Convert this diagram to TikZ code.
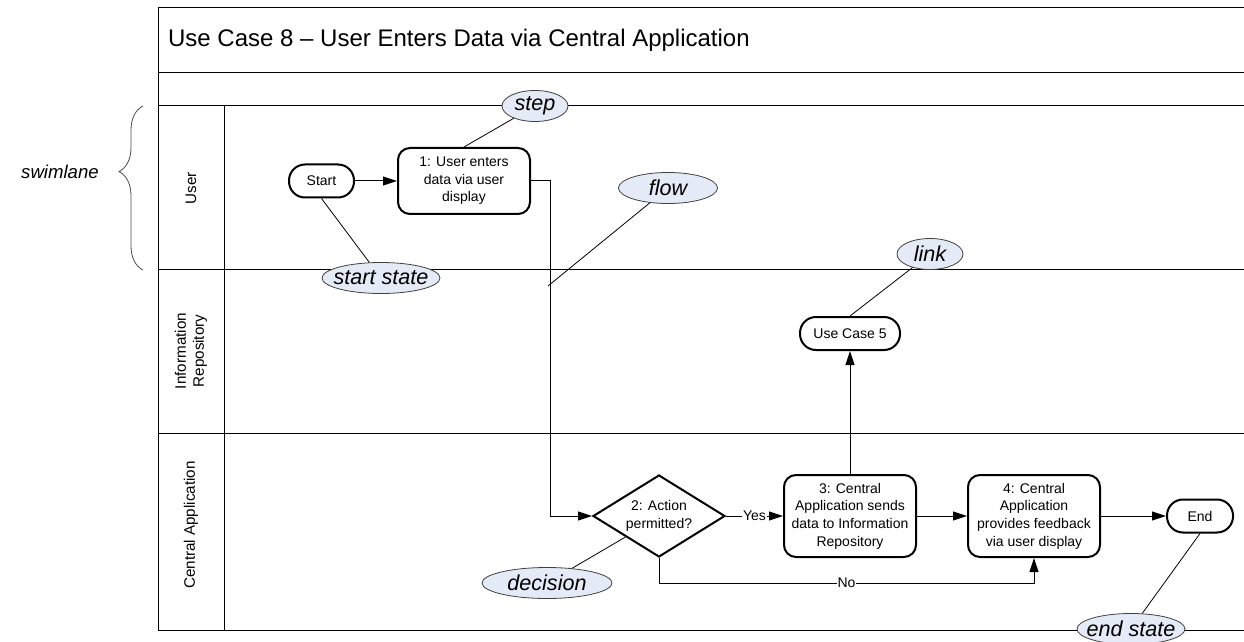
\documentclass[tikz,border=0pt]{standalone}
\usepackage{fontspec}
\setmainfont{Liberation Sans}
\usepackage{tikz}
\usetikzlibrary{arrows.meta,positioning,shapes.geometric,decorations.pathreplacing}

\definecolor{notefill}{RGB}{228,234,246}
\newcommand{\ctxt}[1]{\makebox[0pt]{#1}}

\begin{document}
\begin{tikzpicture}[x=0.5pt,y=-0.5pt,>={Triangle[length=7pt,width=4.5pt]},
                    line width=0.5pt]
  \tikzstyle{every node}=[font=\fontsize{7}{8.8}\selectfont]
  \tikzstyle{frame}=[line width=0.5pt]
  \tikzstyle{act}=[draw,line width=1pt,rounded corners=6pt,fill=white,align=center,
                   minimum width=66pt,minimum height=33pt,inner sep=1pt]
  \tikzstyle{term}=[draw,line width=1pt,rounded corners=8pt,fill=white,
                    minimum height=16.5pt,inner sep=1pt]
  \tikzstyle{note}=[draw=black!75,line width=0.4pt,ellipse,fill=notefill,inner sep=0pt,
                    minimum height=15.5pt,font=\fontsize{10.8}{12}\selectfont\itshape]
  \tikzstyle{lane}=[rotate=90,align=center,font=\fontsize{7.6}{9}\selectfont]
  \tikzstyle{lbl}=[fill=white,inner sep=0.5pt]

  \useasboundingbox (0,0) rectangle (1244,642);

  % pool and lanes
  \draw[frame] (1244,8) -- (158,8) -- (158,630) -- (1244,630);
  \foreach \y in {73,106,270,433}
    \draw[frame] (158,\y) -- (1244,\y);
  \draw[frame] (224,106) -- (224,630);

  \node[anchor=west,font=\fontsize{12}{14}\selectfont] (title) at (161,40)
    {Use Case 8 – User Enters Data via Central Application};

  \node[lane] (uLane) at (191,188) {User};
  \node[lane] (iLane) at (191,351) {Information\\Repository};
  \node[lane] (cLane) at (191,525) {Central Application};

  % flow
  \node[term,minimum width=32.5pt] (S) at (321.5,181) {Start};
  \node[act]          (A) [right=21pt of S]   {1: User enters\\data via user\\display};
  \node[draw,diamond,line width=1pt,fill=white,aspect=1.6,inner sep=0pt,align=center,
        minimum width=66pt,minimum height=41pt] (B) at (659,516) {2: Action\\permitted?};
  \node[act,minimum height=41pt] (C) [right=28.5pt of B] {3: Central\\Application sends\\data to Information\\Repository};
  \node[act,minimum height=41pt] (D) [right=25pt of C]   {4: Central\\Application\\provides feedback\\via user display};
  \node[term,minimum width=33pt] (E) [right=32.5pt of D] {End};
  \node[term,minimum width=50pt] (L) [above=61.5pt of C] {Use Case 5};

  \path[->] (S) edge (A)
            (B) edge node[lbl] {Yes} (C)
            (C) edge (D)
                edge (L)
            (D) edge (E);
  \draw[->] (A.east) -- ++(19,0) |- (B.west);
  \draw[->] (B.south) -- ++(0,25) -| node[lbl,pos=0.25] {No} (D.south);
  \coordinate (fl) at (548,286);

  % callouts
  \node[note,minimum width=33pt]   (cStep)  at (535,106)  {\ctxt{step}};
  \node[note,minimum width=49.5pt] (cFlow)  at (668,188)  {\ctxt{flow}};
  \node[note,minimum width=59pt]   (cStart) at (381,278)  {\ctxt{start state}};
  \node[note,minimum width=33pt]   (cLink)  at (930,254)  {\ctxt{link}};
  \node[note,minimum width=65pt]   (cDec)   at (547,583)  {\ctxt{decision}};
  \node[note,minimum width=54pt]   (cEnd)   at (1131,629) {\ctxt{end state}};

  \draw[thin] (A.north) -- (cStep);
  \draw[thin] (fl) -- (cFlow);
  \draw[thin] (S.south) -- (cStart);
  \draw[thin] (L.north) -- (cLink);
  \draw[thin] (B.south west) -- (cDec);
  \draw[thin] (E.south) -- (cEnd);

  % swimlane brace
  \node[font=\fontsize{9.3}{11}\selectfont\itshape] (sw) at (60,172) {swimlane};
  \draw[thin,black!70,decorate,decoration={brace,amplitude=12pt,aspect=0.6}]
    (143,270) -- (143,106);
\end{tikzpicture}
\end{document}
